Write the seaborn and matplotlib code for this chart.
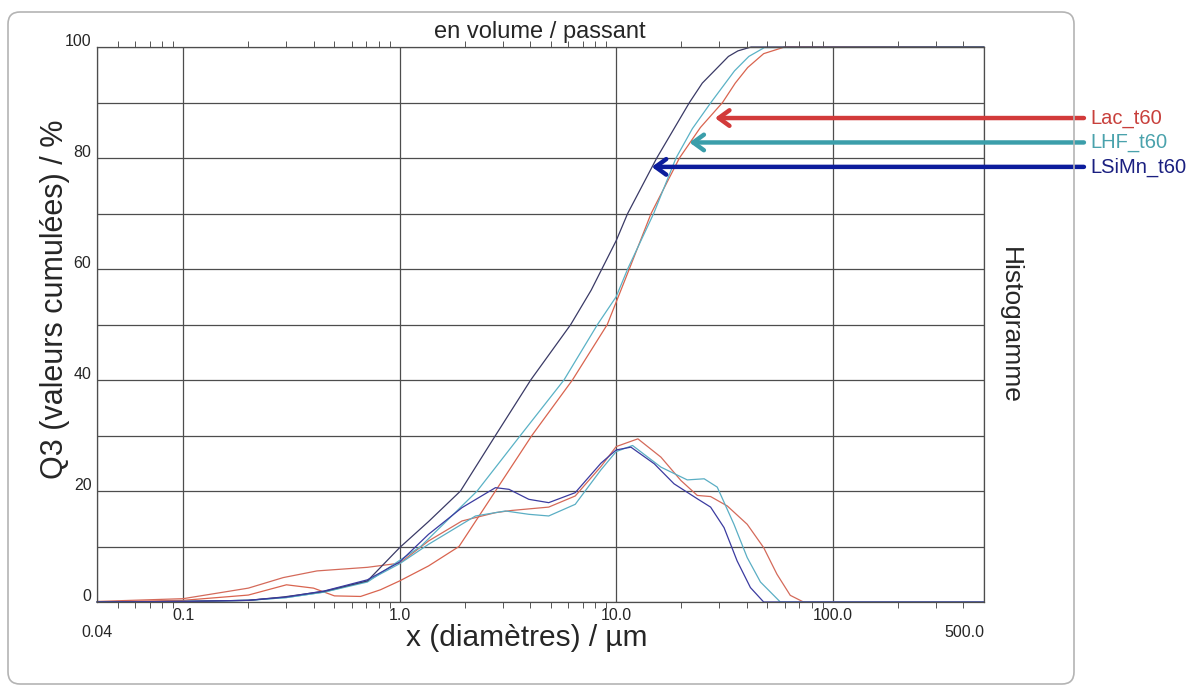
import numpy as np
import pandas as pd
import matplotlib
matplotlib.use("Agg")
import matplotlib.pyplot as plt
import seaborn as sns
from matplotlib.patches import FancyBboxPatch
from matplotlib.transforms import IdentityTransform, ScaledTranslation
from matplotlib.ticker import LogLocator, NullFormatter

# samples and colours
samples = ["Lac_t60", "LHF_t60", "LSiMn_t60"]
cum_colors = ["#d9644f", "#5ab2c6", "#3a3a66"]
hist_colors = ["#d46a5a", "#5aaec4", "#3b3ba0"]
label_colors = ["#c8403c", "#4aa2ac", "#1a1f80"]
arrow_colors = ["#d23a3a", "#3b9eaa", "#0c1c9c"]

# cumulative Q3 curves (x in um, y in %)
lac_cum_x = [0.04, 0.1, 0.2, 0.3, 0.4, 0.5, 0.66, 0.815, 1.0, 1.36, 1.88, 2.77, 4.08, 6.28, 9.1, 11.5, 14.5, 19.6, 24.5, 31.0, 35.5, 40.5, 48.0, 60.0, 500]
lac_cum_y = [0, 0.3, 1.25, 3.1, 2.5, 1.1, 1.0, 2.2, 3.8, 6.5, 10, 20, 30, 40, 50, 60, 70, 80, 85.5, 90, 93.5, 96.3, 98.8, 100, 100]

lhf_cum_x = [0.04, 0.1, 0.2, 0.3, 0.45, 0.71, 1.0, 1.25, 2.28, 3.61, 5.74, 8.2, 10.0, 11.3, 14.9, 18.9, 22.5, 27.4, 35.2, 41.0, 48.4, 500]
lhf_cum_y = [0, 0.1, 0.3, 0.8, 1.8, 3.6, 7.5, 10, 20, 30, 40, 50, 55, 60, 70, 80, 85.3, 90, 95.7, 98.3, 99.9, 100]

lsimn_cum_x = [0.04, 0.1, 0.2, 0.29, 0.445, 0.71, 1.0, 1.36, 1.91, 2.77, 4.03, 6.17, 7.67, 10.0, 11.3, 15.4, 21.8, 25.0, 28.4, 33.0, 36.5, 42.0, 500]
lsimn_cum_y = [0, 0.1, 0.3, 0.9, 1.9, 3.8, 9.8, 14.5, 20, 30, 40, 50, 56.2, 65.1, 70, 80, 90, 93.5, 95.7, 98.3, 99.3, 100, 100]

# histogram curves
lac_hist_x = [0.04, 0.1, 0.2, 0.29, 0.415, 0.71, 1.0, 1.36, 1.94, 2.77, 3.3, 4.88, 6.47, 8.5, 10.0, 12.6, 16.1, 19.9, 23.7, 27.3, 32.6, 40.3, 48.0, 55.3, 63.7, 73.3, 500]
lac_hist_y = [0.1, 0.6, 2.5, 4.4, 5.6, 6.25, 7.0, 11.0, 14.6, 16.1, 16.5, 17.1, 19.1, 24.4, 28.0, 29.4, 26.1, 21.9, 19.2, 19.0, 17.3, 14.0, 9.8, 5.0, 1.2, 0, 0]

lhf_hist_x = [0.04, 0.1, 0.2, 0.3, 0.45, 0.71, 1.0, 1.36, 2.24, 3.08, 3.95, 4.88, 6.47, 8.5, 10.0, 11.9, 16.1, 21.3, 25.5, 29.3, 35.0, 40.3, 46.4, 57.3, 500]
lhf_hist_y = [0, 0.1, 0.3, 0.8, 1.8, 3.8, 6.9, 10.4, 15.5, 16.4, 15.8, 15.5, 17.6, 23.8, 27.1, 28.2, 24.3, 22.0, 22.2, 20.7, 14.0, 8.0, 3.6, 0, 0]

lsimn_hist_x = [0.04, 0.1, 0.2, 0.3, 0.45, 0.71, 1.0, 1.36, 1.94, 2.77, 3.2, 3.95, 4.88, 6.47, 8.5, 10.0, 11.7, 15.0, 18.5, 23.7, 27.3, 31.5, 36.2, 41.7, 48.0, 500]
lsimn_hist_y = [0, 0.1, 0.3, 0.9, 2.0, 4.0, 7.2, 12.2, 17.0, 20.6, 20.3, 18.5, 17.9, 19.7, 25.0, 27.4, 27.9, 24.9, 21.3, 18.6, 17.1, 13.4, 7.4, 2.6, 0, 0]

# arrow tips pointing at the curves
arrow_tip_x = [28.6, 21.8, 14.6]
arrow_tip_y = [87.2, 82.8, 78.4]

x_ticks = [0.04, 0.1, 1, 10, 100, 500]
x_tick_labels = ["\n0.04", "0.1", "1.0", "10.0", "100.0", "\n500.0"]
y_ticks = [0, 20, 40, 60, 80, 100]

sns.set_style("white")
plt.rcParams["font.family"] = ["Liberation Sans", "DejaVu Sans"]

fig = plt.figure(figsize=(11.95, 6.86), dpi=100)
ax = fig.add_axes([97 / 1195, 84 / 686, 887 / 1195, 555 / 686])

cum_x = [lac_cum_x, lhf_cum_x, lsimn_cum_x]
cum_y = [lac_cum_y, lhf_cum_y, lsimn_cum_y]
hist_x = [lac_hist_x, lhf_hist_x, lsimn_hist_x]
hist_y = [lac_hist_y, lhf_hist_y, lsimn_hist_y]

for i in range(3):
    sns.lineplot(x=cum_x[i], y=cum_y[i], color=cum_colors[i], lw=0.9,
                 estimator=None, sort=False, ax=ax, clip_on=False)
    sns.lineplot(x=hist_x[i], y=hist_y[i], color=hist_colors[i], lw=0.9,
                 estimator=None, sort=False, ax=ax, clip_on=False)

ax.set_xscale("log")
ax.set_xlim(0.04, 500)
ax.set_ylim(0, 100)

# grid
ax.set_xticks(x_ticks)
ax.set_xticklabels(x_tick_labels, fontsize=11.5)
ax.xaxis.set_minor_locator(LogLocator(base=10, subs=np.arange(2, 10)))
ax.xaxis.set_minor_formatter(NullFormatter())
ax.set_yticks(y_ticks)
ax.set_yticklabels([str(v) for v in y_ticks], fontsize=11.5)
ax.set_yticks(np.arange(10, 100, 20), minor=True)
ax.grid(True, which="major", color="#4d4d4d", lw=0.9)
ax.grid(True, which="minor", axis="y", color="#4d4d4d", lw=0.9)
ax.tick_params(which="major", length=0, pad=4)
ax.tick_params(axis="x", which="minor", top=True, bottom=True, direction="out",
               length=4, width=0.7, color="#555555")
ax.tick_params(axis="y", which="minor", length=0)
for s in ax.spines.values():
    s.set_color("#4d4d4d")
    s.set_linewidth(0.9)
for lbl in ax.get_xticklabels():
    if lbl.get_text() == "\n500.0":
        lbl.set_horizontalalignment("right")
# y tick labels sit a little above their gridlines
shift_up = ScaledTranslation(0, 5 / 72, fig.dpi_scale_trans)
for lbl in ax.get_yticklabels():
    lbl.set_transform(lbl.get_transform() + shift_up)

ax.set_xlabel("x (diamètres) / µm", fontsize=21.5)
ax.xaxis.set_label_coords(0.485, -0.04)
ax.set_ylabel("Q3 (valeurs cumulées) / %", fontsize=22)
ax.yaxis.set_label_coords(-0.031, 0.545)

fig.text(540 / 1195, 1 - 32 / 686, "en volume / passant", fontsize=17,
         ha="center", va="center")
fig.text(1010 / 1195, 1 - 325 / 686, "Histogramme", fontsize=19,
         rotation=270, ha="center", va="center")

# arrows with sample names
for i in range(3):
    ax.annotate(samples[i], xy=(arrow_tip_x[i], arrow_tip_y[i]),
                xytext=(1.1195, arrow_tip_y[i]), textcoords=("axes fraction", "data"),
                ha="left", va="center", fontsize=14.5, color=label_colors[i],
                arrowprops=dict(arrowstyle="->,head_length=0.55,head_width=0.4",
                                color=arrow_colors[i], lw=3.2, shrinkA=2, shrinkB=0,
                                mutation_scale=14))

# rounded outer frame
frame = FancyBboxPatch((8, 2), 1066, 672, boxstyle="round,pad=0,rounding_size=12",
                       transform=IdentityTransform(), fill=False,
                       edgecolor="#b4b4b4", lw=1.2)
fig.add_artist(frame)

fig.savefig("out.png", dpi=100)
